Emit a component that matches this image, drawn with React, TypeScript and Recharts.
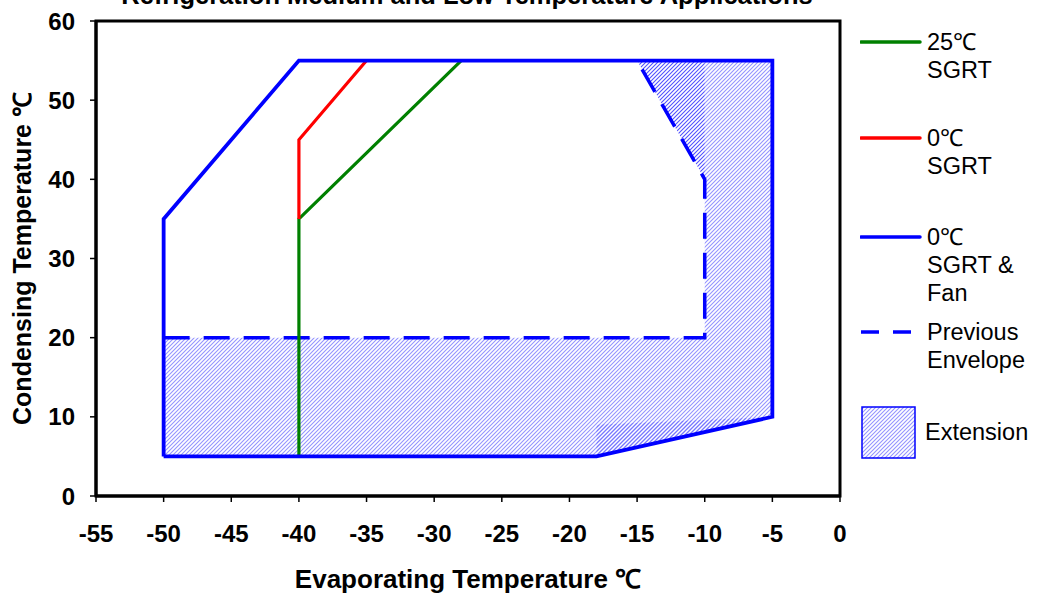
import React from 'react';
import { ComposedChart, Area, Scatter, XAxis, YAxis, ReferenceArea } from 'recharts';

const xTicks = [-55, -50, -45, -40, -35, -30, -25, -20, -15, -10, -5, 0];
const yTicks = [0, 10, 20, 30, 40, 50, 60];

const sgrt25Points = [{ x: -40, y: 5 }, { x: -40, y: 35 }, { x: -28, y: 55 }];
const sgrt0Points = [{ x: -40, y: 35 }, { x: -40, y: 45 }, { x: -35, y: 55 }];
const fanEnvelopePoints = [
  { x: -50, y: 5 }, { x: -50, y: 35 }, { x: -40, y: 55 }, { x: -5, y: 55 },
  { x: -5, y: 10 }, { x: -18, y: 5 }, { x: -50, y: 5 },
];
const previousEnvelopePoints = [{ x: -50, y: 20 }, { x: -10, y: 20 }, { x: -10, y: 40 }, { x: -15, y: 55 }];

const extensionX = [-50, -18, -15, -10, -10, -5];
const extensionMain = [[5, 20], [5, 20], null, [8.08, 20], [8.08, 55], [10, 55]];
const extensionCorner = [null, null, [55, 55], [40, 55], null, null];
const extensionOverlap = [null, [5, 9], null, null, null, [10, 10]];

const extensionRows = extensionX.map((x, i) => ({
  x,
  main: extensionMain[i],
  corner: extensionCorner[i],
  overlap: extensionOverlap[i],
}));

const FONT = '"Liberation Sans", Arial, sans-serif';
const noShape = () => <g />;

const legendItems = [
  { label: ['25℃', 'SGRT'], color: '#008000', dash: false, top: 28 },
  { label: ['0℃', 'SGRT'], color: '#ff0000', dash: false, top: 124 },
  { label: ['0℃', 'SGRT &', 'Fan'], color: '#0000ff', dash: false, top: 223 },
  { label: ['Previous', 'Envelope'], color: '#0000ff', dash: true, top: 318 },
];

const HATCH_PATH = 'M-1,1 L1,-1 M0,4 L4,0 M3,5 L5,3';

export default function App() {
  return (
    <div style={{ position: 'absolute', left: 0, top: 0, width: 1040, height: 596, background: '#fff', fontFamily: FONT }}>
      <svg width={1040} height={30} style={{ position: 'absolute', left: 0, top: 0 }}>
        <text x={467} y={4} textAnchor="middle" fontWeight="bold" fontSize={25.5} fontFamily={FONT} fill="#000">
          Refrigeration Medium and Low Temperature Applications
        </text>
      </svg>
      <ComposedChart
        width={1040}
        height={596}
        data={extensionRows}
        margin={{ top: 21, right: 200, bottom: 40, left: 36 }}
        style={{ fontFamily: FONT, position: 'absolute', left: 0, top: 0 }}
      >
        <defs>
          <pattern id="hatchLight" x="0" y="0" width="4" height="4" patternUnits="userSpaceOnUse">
            <path d={HATCH_PATH} stroke="#9494ff" strokeWidth="1.1" fill="none" />
          </pattern>
          <pattern id="hatchDark" x="0" y="0" width="4" height="4" patternUnits="userSpaceOnUse">
            <path d={HATCH_PATH} stroke="#5050ff" strokeWidth="1.1" fill="none" />
          </pattern>
          <pattern id="hatchMid" x="0" y="0" width="4" height="4" patternUnits="userSpaceOnUse">
            <path d={HATCH_PATH} stroke="#7474ff" strokeWidth="1.1" fill="none" />
          </pattern>
        </defs>
        <XAxis
          type="number"
          dataKey="x"
          domain={[-55, 0]}
          ticks={xTicks}
          interval={0}
          axisLine={{ stroke: '#000', strokeWidth: 3 }}
          tickLine={{ stroke: '#000', strokeWidth: 1.5 }}
          tickSize={6}
          tickMargin={23}
          height={60}
          tick={{ fill: '#000', fontSize: 24, fontWeight: 'bold', fontFamily: FONT }}
          label={{ value: 'Evaporating Temperature ℃', position: 'insideBottom', offset: -32, fill: '#000', fontSize: 26, fontWeight: 'bold', fontFamily: FONT }}
        />
        <YAxis
          type="number"
          dataKey="y"
          domain={[0, 60]}
          ticks={yTicks}
          interval={0}
          axisLine={{ stroke: '#000', strokeWidth: 3 }}
          tickLine={{ stroke: '#000', strokeWidth: 1.5 }}
          tickSize={6}
          tickMargin={15}
          width={60}
          tick={{ fill: '#000', fontSize: 24, fontWeight: 'bold', fontFamily: FONT }}
          label={{ value: 'Condensing Temperature ℃', angle: -90, position: 'insideLeft', offset: -14, fill: '#000', fontSize: 25, fontWeight: 'bold', fontFamily: FONT, style: { textAnchor: 'middle' } }}
        />
        <Area dataKey="main" type="linear" stroke="none" fill="url(#hatchLight)" fillOpacity={1} connectNulls isAnimationActive={false} legendType="none" />
        <Area dataKey="corner" type="linear" stroke="none" fill="url(#hatchDark)" fillOpacity={1} connectNulls isAnimationActive={false} legendType="none" />
        <Area dataKey="overlap" type="linear" stroke="none" fill="url(#hatchMid)" fillOpacity={1} connectNulls isAnimationActive={false} legendType="none" />
        <ReferenceArea x1={-55} x2={0} y1={0} y2={60} fill="none" fillOpacity={0} stroke="#000" strokeWidth={3} />
        <Scatter data={previousEnvelopePoints} line={{ stroke: '#0000ff', strokeWidth: 3.5, strokeDasharray: '26 14' }} shape={noShape} isAnimationActive={false} legendType="none" />
        <Scatter data={sgrt25Points} line={{ stroke: '#008000', strokeWidth: 3.2 }} shape={noShape} isAnimationActive={false} legendType="none" />
        <Scatter data={sgrt0Points} line={{ stroke: '#ff0000', strokeWidth: 3.2 }} shape={noShape} isAnimationActive={false} legendType="none" />
        <Scatter data={fanEnvelopePoints} line={{ stroke: '#0000ff', strokeWidth: 3.8 }} shape={noShape} isAnimationActive={false} legendType="none" />
      </ComposedChart>
      <div style={{ position: 'absolute', left: 0, top: 0, width: 1040, height: 596, pointerEvents: 'none' }}>
        {legendItems.map((it, i) => (
          <div key={i} style={{ position: 'absolute', left: 860, top: it.top, fontSize: 23.5, lineHeight: '28px', color: '#000' }}>
            <svg width={64} height={28} style={{ position: 'absolute', left: 0, top: 0 }}>
              <line x1={1} y1={14} x2={60} y2={14} stroke={it.color} strokeWidth={3.5} strokeDasharray={it.dash ? '18 14' : undefined} strokeLinecap={it.dash ? 'butt' : 'round'} />
            </svg>
            <div style={{ marginLeft: 67, whiteSpace: 'nowrap' }}>
              {it.label.map((l, j) => (<div key={j}>{l}</div>))}
            </div>
          </div>
        ))}
        <div style={{ position: 'absolute', left: 861, top: 406, fontSize: 23.5, lineHeight: '28px', color: '#000' }}>
          <svg width={56} height={54} style={{ position: 'absolute', left: 0, top: 0 }}>
            <defs>
              <pattern id="hatchLegend" x="0" y="0" width="4" height="4" patternUnits="userSpaceOnUse">
                <path d={HATCH_PATH} stroke="#9494ff" strokeWidth="1.1" fill="none" />
              </pattern>
            </defs>
            <rect x={1} y={1} width={53} height={51} fill="url(#hatchLegend)" stroke="#0000ff" strokeWidth={1.5} />
          </svg>
          <div style={{ position: 'absolute', left: 64, top: 12, whiteSpace: 'nowrap' }}>Extension</div>
        </div>
      </div>
    </div>
  );
}
